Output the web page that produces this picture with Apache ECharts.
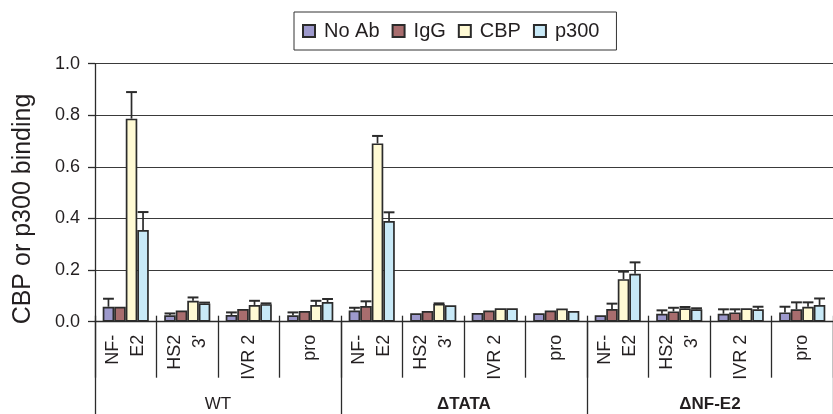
<!DOCTYPE html>
<html>
<head>
<meta charset="utf-8">
<script src="https://cdn.jsdelivr.net/npm/echarts@6/dist/echarts.min.js"></script>
<style>
  html, body { margin: 0; padding: 0; background: #fff; }
  #chart { width: 833px; height: 414px; }
</style>
</head>
<body>
<div id="chart"></div>
<script>
// Sub-regions assayed in each construct, and the constructs themselves
const regions = ['NF-\nE2', "HS2\n3'", 'IVR 2', 'pro',
                 'NF-\nE2', "HS2\n3'", 'IVR 2', 'pro',
                 'NF-\nE2', "HS2\n3'", 'IVR 2', 'pro'];
const constructs = ['WT', '\u0394TATA', '\u0394NF-E2'];
const seriesNames = ['No Ab', 'IgG', 'CBP', 'p300'];
const yTicks = [0, 0.2, 0.4, 0.6, 0.8, 1.0];

// Mean binding per region
const noAb = [0.058, 0.025, 0.026, 0.025, 0.043, 0.033, 0.034, 0.033, 0.025, 0.031, 0.031, 0.036];
const igg  = [0.058, 0.043, 0.049, 0.041, 0.061, 0.041, 0.043, 0.043, 0.049, 0.040, 0.036, 0.048];
const cbp  = [0.787, 0.081, 0.065, 0.065, 0.691, 0.069, 0.052, 0.051, 0.165, 0.052, 0.052, 0.058];
const p300 = [0.355, 0.071, 0.068, 0.076, 0.390, 0.064, 0.052, 0.041, 0.186, 0.048, 0.048, 0.065];

// Upper end of each error bar (null = no bar drawn)
const noAbErr = [0.089, 0.032, 0.036, 0.036, 0.054, null, null, null, null, 0.044, 0.048, 0.058];
const iggErr  = [null, null, null, null, 0.079, null, null, null, 0.070, 0.054, 0.048, 0.075];
const cbpErr  = [0.890, 0.094, 0.081, 0.081, 0.720, 0.071, null, null, 0.194, 0.057, null, 0.075];
const p300Err = [0.425, 0.074, 0.071, 0.088, 0.424, null, null, null, 0.230, 0.052, 0.058, 0.090];

const means = [noAb, igg, cbp, p300];
const uppers = [noAbErr, iggErr, cbpErr, p300Err];
const colors = ['#9d99cc', '#a86d6e', '#fffad4', '#c8e9f7'];

const FONT = '"Liberation Sans", Arial, Helvetica, sans-serif';
const INK = '#231f20';
const EDGE = '#2b2b2b';
const BAR_SHARE = 0.75; // fraction of each category band used by the 4 bars

function errorRenderer(k) {
  return function (params, api) {
    const i = api.value(0);
    const base = api.coord([i, api.value(1)]);
    const top = api.coord([i, api.value(2)]);
    const band = api.size([1, 0])[0];
    const bw = band * BAR_SHARE / seriesNames.length;
    const x = base[0] + (k - (seriesNames.length - 1) / 2) * bw;
    const half = bw * 0.47;
    return {
      type: 'group',
      children: [
        { type: 'line', shape: { x1: x, y1: base[1], x2: x, y2: top[1] },
          style: { stroke: EDGE, lineWidth: 1.7 } },
        { type: 'line', shape: { x1: x - half, y1: top[1], x2: x + half, y2: top[1] },
          style: { stroke: EDGE, lineWidth: 2 } }
      ]
    };
  };
}

const barSeries = seriesNames.map((name, k) => ({
  name: name,
  type: 'bar',
  xAxisIndex: 0,
  data: means[k],
  barGap: '0%',
  barCategoryGap: (100 * (1 - BAR_SHARE)) + '%',
  itemStyle: { color: colors[k], borderColor: EDGE, borderWidth: 1.7 },
  z: 3
}));

const errSeries = seriesNames.map((name, k) => ({
  type: 'custom',
  xAxisIndex: 0,
  renderItem: errorRenderer(k),
  encode: { x: 0, y: [1, 2] },
  data: means[k].map((v, i) => uppers[k][i] == null ? null : [i, v, uppers[k][i]])
              .filter(d => d !== null),
  z: 4,
  silent: true
}));

const chart = echarts.init(document.getElementById('chart'), null, { renderer: 'canvas' });
chart.setOption({
  animation: false,
  backgroundColor: '#ffffff',
  textStyle: { fontFamily: FONT, color: INK },
  grid: { left: 95, top: 63.7, width: 749, height: 258, containLabel: false },
  legend: {
    data: seriesNames,
    left: 294,
    top: 12,
    orient: 'horizontal',
    padding: [8, 17, 8, 8],
    itemGap: 12,
    itemWidth: 12,
    itemHeight: 12,
    icon: 'rect',
    borderColor: '#333',
    borderWidth: 1,
    textStyle: { fontFamily: FONT, fontSize: 20, color: INK, lineHeight: 22, padding: [0, 0, 0, 4] }
  },
  xAxis: [
    {
      type: 'category',
      position: 'bottom',
      data: regions,
      axisLine: { show: true, lineStyle: { color: EDGE, width: 1.3 } },
      axisTick: { show: true, interval: 0, length: 56, lineStyle: { color: EDGE, width: 1.3 } },
      axisLabel: {
        interval: 0, rotate: 90, margin: 13,
        fontFamily: FONT, fontSize: 18, lineHeight: 25, color: INK
      },
      splitLine: { show: false }
    },
    {
      type: 'category',
      position: 'bottom',
      data: constructs,
      axisLine: { show: false },
      axisTick: { show: true, interval: 0, length: 100, lineStyle: { color: EDGE, width: 1.3 } },
      axisLabel: {
        interval: 0, margin: 74, fontFamily: FONT, fontSize: 17, color: INK,
        formatter: v => v === 'WT' ? '{n|' + v + '}' : '{b|' + v + '}',
        rich: {
          n: { fontFamily: FONT, fontSize: 17, color: INK },
          b: { fontFamily: FONT, fontSize: 17, fontWeight: 'bold', color: INK }
        }
      },
      splitLine: { show: false }
    },
    {
      // short stubs of the region dividers poking above the baseline
      type: 'category',
      position: 'bottom',
      data: regions,
      axisLine: { show: false },
      axisTick: { show: true, inside: true, interval: 0, length: 6, lineStyle: { color: EDGE, width: 1.3 } },
      axisLabel: { show: false },
      splitLine: { show: false }
    }
  ],
  yAxis: {
    type: 'value',
    min: yTicks[0],
    max: yTicks[yTicks.length - 1],
    interval: 0.2,
    axisLine: { show: true, lineStyle: { color: EDGE, width: 1.3 } },
    axisTick: { show: true, length: 7, lineStyle: { color: EDGE, width: 1.3 } },
    axisLabel: {
      margin: 15, fontFamily: FONT, fontSize: 18, color: INK,
      formatter: v => v.toFixed(1)
    },
    splitLine: { show: true, lineStyle: { color: '#3a3a3a', width: 1.2 } }
  },
  graphic: [
    {
      type: 'text',
      x: 23,
      y: 209,
      rotation: Math.PI / 2,
      style: {
        text: 'CBP or p300 binding',
        font: '25px ' + FONT,
        fill: INK,
        textAlign: 'center',
        textVerticalAlign: 'middle'
      },
      z: 10
    }
  ],
  series: barSeries.concat(errSeries)
});
</script>
</body>
</html>
